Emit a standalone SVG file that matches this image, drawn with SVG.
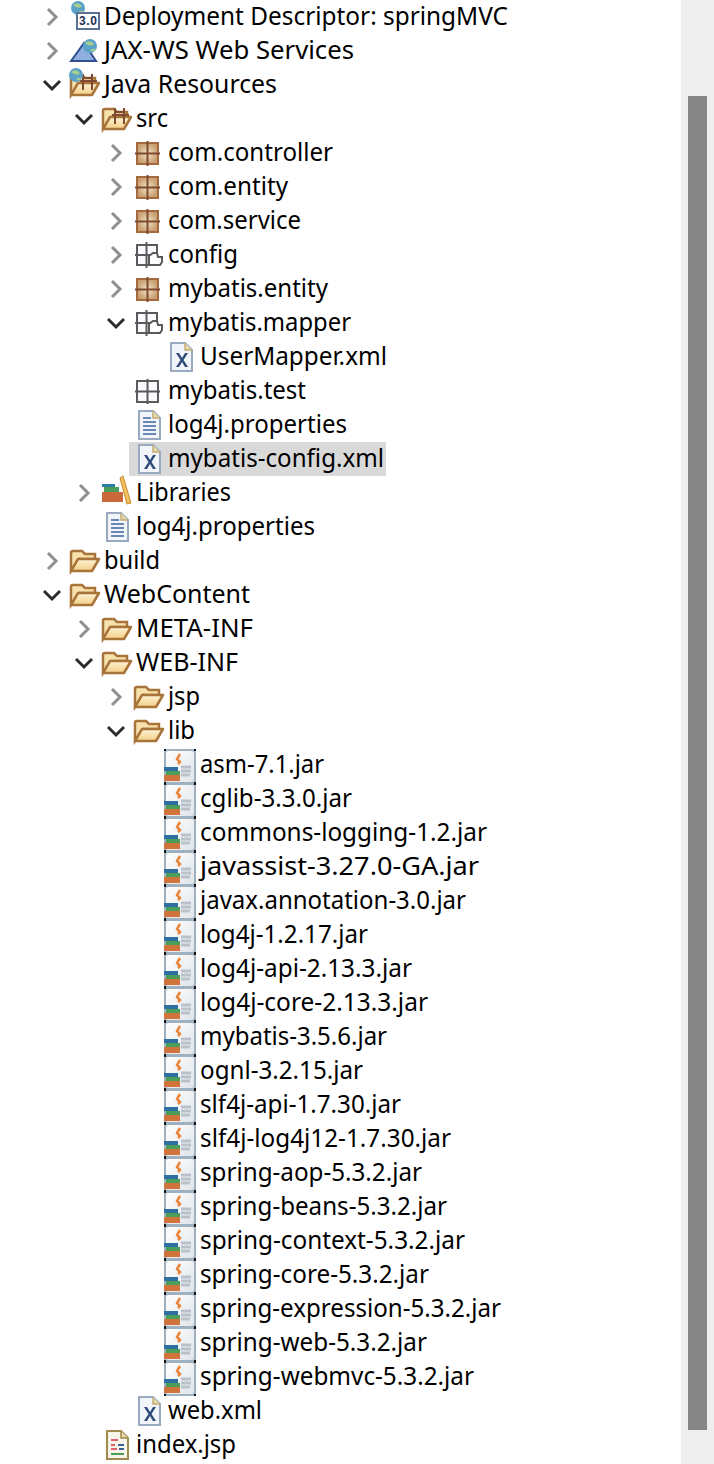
<svg xmlns="http://www.w3.org/2000/svg" xmlns:xlink="http://www.w3.org/1999/xlink" width="714" height="1464" viewBox="0 0 714 1464">
<style>
text{font-family:"Noto Sans","Open Sans","Liberation Sans",sans-serif;font-size:25px;fill:#000;dominant-baseline:auto}
.cg{fill:none;stroke:#8f8f8f;stroke-width:3}
.cd{fill:none;stroke:#2b2b2b;stroke-width:3}
</style>
<defs>
<linearGradient id="fg" x1="0" y1="0" x2="0" y2="1"><stop offset="0" stop-color="#fdf3d6"/><stop offset="1" stop-color="#f3cf85"/></linearGradient>
<radialGradient id="pg"><stop offset="0" stop-color="#f3e6cc"/><stop offset="1" stop-color="#c99f70"/></radialGradient>
<linearGradient id="jg" x1="0" y1="0" x2="1" y2="1"><stop offset="0" stop-color="#ffffff"/><stop offset="1" stop-color="#dfe4e9"/></linearGradient>
<path id="chevR" d="M-4-8 4 0-4 8"/>
<path id="chevD" d="M-8-4 0 4 8-4"/>
<g id="folder">
<path d="M1 11V-7Q1-9 3-9H12L15-6H25V-1H9L1 11Z" fill="#f7e2ae" stroke="#a9743a" stroke-width="2.500"/>
<path d="M1 11 8-1H29L22 11Z" fill="url(#fg)" stroke="#a9743a" stroke-width="2.500" stroke-linejoin="round"/>
</g>
<g id="pkg">
<rect x="3" y="-9" width="21" height="21" fill="url(#pg)" stroke="#a5693f" stroke-width="2"/>
<path d="M13.500-11V14M1 1.500H26" stroke="#7f4a30" stroke-width="2" fill="none"/>
</g>
<g id="pkge">
<rect x="3" y="-9" width="21" height="21" fill="#f8fafd" stroke="#5a5a5a" stroke-width="2"/>
<path d="M13.500-11V14M1 1.500H26" stroke="#5a5a5a" stroke-width="2" fill="none"/>
</g>
<g id="srcpkg">
<rect x="2" y="-9" width="20" height="20" fill="#f8fafd" stroke="#5a5a5a" stroke-width="2"/>
<path d="M11.500-12V14M0 1H23" stroke="#5a5a5a" stroke-width="2" fill="none"/>
<path d="M14 9V2L18-1H22L23 3H27V8L25 11H14Z" fill="#fff" stroke="#5a5a5a" stroke-width="2"/>
</g>
<g id="doc">
<path d="M1-14H15L22-7V14H1Z" fill="#f1f5fa" stroke="#98a9c0" stroke-width="2"/>
<path d="M15-14V-7H22" fill="#e9d9a6" stroke="#c3ad78" stroke-width="1.500"/>
</g>
<g id="xml"><use xlink:href="#doc"/><path d="M6-4H9L12 1 15-4H18L13.500 3 18 10H15L12 5 9 10H6L10.500 3Z" fill="#2f4a78"/></g>
<g id="prop"><use xlink:href="#doc"/><path d="M5-7H13M5-3H18M5 1H18M5 5H18M5 9H18" stroke="#6a86b5" stroke-width="2"/></g>
<g id="jsp">
<path d="M1-14H15L22-7V14H1Z" fill="#f7f5ea" stroke="#a08a4e" stroke-width="2"/>
<path d="M15-14V-7H22" fill="#e9d9a6" stroke="#a08a4e" stroke-width="1.500"/>
<path d="M5-5H12M5 0H9M5 4H11" stroke-width="2" stroke="#e06070"/>
<path d="M12 0H18M13 4H18" stroke-width="2" stroke="#3b5f96"/>
<path d="M5 9H18" stroke-width="2" stroke="#4c9c5a"/>
</g>
<g id="jar">
<rect x="2" y="-15" width="30" height="33" rx="3" fill="url(#jg)" stroke="#9fb0bf" stroke-width="2"/>
<path d="M17-11 14-6 17-3 15-1" fill="none" stroke="#e8853a" stroke-width="2.500"/>
<path d="M18 2H28M18 6H28M18 10H27" stroke="#b9c2cb" stroke-width="3"/>
<rect x="1" y="2" width="14" height="4" fill="#2d6fa0"/>
<rect x="3" y="6" width="14" height="4" fill="#4c9c5a"/>
<rect x="1" y="10" width="16" height="6" fill="#d0743c"/>
<path d="M1-16h2v2H1ZM31-16h2v2H31ZM1 17h2v2H1ZM31 17h2v2H31Z" fill="#111"/>
</g>
<g id="globe"><circle cx="0" cy="0" r="7" fill="#5aa2c8"/><path d="M-5-3Q0-7 4-2 1 2-5-3Z" fill="#a9cf8e"/><path d="M0 4Q4 2 6 3 3 7 0 4Z" fill="#a9cf8e"/></g>
<g id="books">
<path d="M19-14 22-16 30 11 26 12Z" fill="#f2c05e" stroke="#c98a2f"/>
<rect x="1" y="-8" width="13" height="3" fill="#2c7da3"/>
<rect x="3" y="-5" width="15" height="5" fill="#4c9c5a"/>
<rect x="1" y="0" width="21" height="10" fill="#c9683a"/>
</g>
</defs>
<rect width="714" height="1464" fill="#fff"/>
<g id="scrollbar">
<rect x="681" width="33" height="1464" fill="#efefef"/>
<rect x="688" y="96" width="19" height="1334" fill="#868686"/>
</g>
<g id="connectors"></g>
<g id="n0"><use class="cg" xlink:href="#chevR" x="52" y="17"/><use xlink:href="#globe" x="78" y="8"/><rect x="77" y="13" width="22" height="16" fill="#fff" stroke="#5c6f95" stroke-width="2"/><text x="79" y="25" style="font-family:'Liberation Sans',sans-serif;font-size:12px;font-weight:700;fill:#1c2f55" textLength="18">3.0</text><text x="104" y="25" textLength="404" lengthAdjust="spacingAndGlyphs">Deployment Descriptor: springMVC</text></g>
<g id="n1"><use class="cg" xlink:href="#chevR" x="52" y="51"/><path d="M71 61 84 43 96 61Z" fill="#8fb0df" stroke="#2f4f92" stroke-width="2"/><use xlink:href="#globe" x="90" y="46"/><text x="104" y="59" textLength="250" lengthAdjust="spacingAndGlyphs">JAX-WS Web Services</text></g>
<g id="n2"><use class="cd" xlink:href="#chevD" x="52" y="85"/><use xlink:href="#folder" x="70" y="84"/><path d="M83 74V90M92 74V90M80 81H97M83 78H92" stroke="#7f4a30" stroke-width="2" fill="none"/><use xlink:href="#globe" x="76" y="75"/><text x="104" y="93" textLength="173" lengthAdjust="spacingAndGlyphs">Java Resources</text></g>
<g id="n3"><use class="cd" xlink:href="#chevD" x="84" y="119"/><use xlink:href="#folder" x="102" y="118"/><path d="M115 108V124M124 108V124M112 115H129M115 112H124" stroke="#7f4a30" stroke-width="2" fill="none"/><text x="136" y="127" textLength="32" lengthAdjust="spacingAndGlyphs">src</text></g>
<g id="n4"><use class="cg" xlink:href="#chevR" x="116" y="153"/><use xlink:href="#pkg" x="134" y="152"/><text x="168" y="161" textLength="165" lengthAdjust="spacingAndGlyphs">com.controller</text></g>
<g id="n5"><use class="cg" xlink:href="#chevR" x="116" y="187"/><use xlink:href="#pkg" x="134" y="186"/><text x="168" y="195" textLength="120" lengthAdjust="spacingAndGlyphs">com.entity</text></g>
<g id="n6"><use class="cg" xlink:href="#chevR" x="116" y="221"/><use xlink:href="#pkg" x="134" y="220"/><text x="168" y="229" textLength="133" lengthAdjust="spacingAndGlyphs">com.service</text></g>
<g id="n7"><use class="cg" xlink:href="#chevR" x="116" y="255"/><use xlink:href="#srcpkg" x="135" y="254"/><text x="168" y="263" textLength="70" lengthAdjust="spacingAndGlyphs">config</text></g>
<g id="n8"><use class="cg" xlink:href="#chevR" x="116" y="289"/><use xlink:href="#pkg" x="134" y="288"/><text x="168" y="297" textLength="160" lengthAdjust="spacingAndGlyphs">mybatis.entity</text></g>
<g id="n9"><use class="cd" xlink:href="#chevD" x="116" y="323"/><use xlink:href="#srcpkg" x="135" y="322"/><text x="168" y="331" textLength="183" lengthAdjust="spacingAndGlyphs">mybatis.mapper</text></g>
<g id="n10"><use xlink:href="#xml" x="170" y="357"/><text x="200" y="365" textLength="187" lengthAdjust="spacingAndGlyphs">UserMapper.xml</text></g>
<g id="n11"><use xlink:href="#pkge" x="134" y="390"/><text x="168" y="399" textLength="138" lengthAdjust="spacingAndGlyphs">mybatis.test</text></g>
<g id="n12"><use xlink:href="#prop" x="138" y="425"/><text x="168" y="433" textLength="179" lengthAdjust="spacingAndGlyphs">log4j.properties</text></g>
<g id="n13"><rect x="129" y="442" width="257" height="34" rx="1" fill="#d9d9d9"/><use xlink:href="#xml" x="138" y="459"/><text x="168" y="467" textLength="216" lengthAdjust="spacingAndGlyphs">mybatis-config.xml</text></g>
<g id="n14"><use class="cg" xlink:href="#chevR" x="84" y="493"/><use xlink:href="#books" x="101" y="492"/><text x="136" y="501" textLength="95" lengthAdjust="spacingAndGlyphs">Libraries</text></g>
<g id="n15"><use xlink:href="#prop" x="106" y="527"/><text x="136" y="535" textLength="179" lengthAdjust="spacingAndGlyphs">log4j.properties</text></g>
<g id="n16"><use class="cg" xlink:href="#chevR" x="52" y="561"/><use xlink:href="#folder" x="70" y="560"/><text x="104" y="569" textLength="56" lengthAdjust="spacingAndGlyphs">build</text></g>
<g id="n17"><use class="cd" xlink:href="#chevD" x="52" y="595"/><use xlink:href="#folder" x="70" y="594"/><text x="104" y="603" textLength="146" lengthAdjust="spacingAndGlyphs">WebContent</text></g>
<g id="n18"><use class="cg" xlink:href="#chevR" x="84" y="629"/><use xlink:href="#folder" x="102" y="628"/><text x="136" y="637" textLength="117" lengthAdjust="spacingAndGlyphs">META-INF</text></g>
<g id="n19"><use class="cd" xlink:href="#chevD" x="84" y="663"/><use xlink:href="#folder" x="102" y="662"/><text x="136" y="671" textLength="102" lengthAdjust="spacingAndGlyphs">WEB-INF</text></g>
<g id="n20"><use class="cg" xlink:href="#chevR" x="116" y="697"/><use xlink:href="#folder" x="134" y="696"/><text x="168" y="705" textLength="32" lengthAdjust="spacingAndGlyphs">jsp</text></g>
<g id="n21"><use class="cd" xlink:href="#chevD" x="116" y="731"/><use xlink:href="#folder" x="134" y="730"/><text x="168" y="739" textLength="27" lengthAdjust="spacingAndGlyphs">lib</text></g>
<g id="n22"><use xlink:href="#jar" x="163" y="765"/><text x="200" y="773" textLength="124" lengthAdjust="spacingAndGlyphs">asm-7.1.jar</text></g>
<g id="n23"><use xlink:href="#jar" x="163" y="799"/><text x="200" y="807" textLength="152" lengthAdjust="spacingAndGlyphs">cglib-3.3.0.jar</text></g>
<g id="n24"><use xlink:href="#jar" x="163" y="833"/><text x="200" y="841" textLength="287" lengthAdjust="spacingAndGlyphs">commons-logging-1.2.jar</text></g>
<g id="n25"><use xlink:href="#jar" x="163" y="867"/><text x="200" y="875" textLength="279" lengthAdjust="spacingAndGlyphs">javassist-3.27.0-GA.jar</text></g>
<g id="n26"><use xlink:href="#jar" x="163" y="901"/><text x="200" y="909" textLength="266" lengthAdjust="spacingAndGlyphs">javax.annotation-3.0.jar</text></g>
<g id="n27"><use xlink:href="#jar" x="163" y="935"/><text x="200" y="943" textLength="168" lengthAdjust="spacingAndGlyphs">log4j-1.2.17.jar</text></g>
<g id="n28"><use xlink:href="#jar" x="163" y="969"/><text x="200" y="977" textLength="212" lengthAdjust="spacingAndGlyphs">log4j-api-2.13.3.jar</text></g>
<g id="n29"><use xlink:href="#jar" x="163" y="1003"/><text x="200" y="1011" textLength="228" lengthAdjust="spacingAndGlyphs">log4j-core-2.13.3.jar</text></g>
<g id="n30"><use xlink:href="#jar" x="163" y="1037"/><text x="200" y="1045" textLength="187" lengthAdjust="spacingAndGlyphs">mybatis-3.5.6.jar</text></g>
<g id="n31"><use xlink:href="#jar" x="163" y="1071"/><text x="200" y="1079" textLength="163" lengthAdjust="spacingAndGlyphs">ognl-3.2.15.jar</text></g>
<g id="n32"><use xlink:href="#jar" x="163" y="1105"/><text x="200" y="1113" textLength="201" lengthAdjust="spacingAndGlyphs">slf4j-api-1.7.30.jar</text></g>
<g id="n33"><use xlink:href="#jar" x="163" y="1139"/><text x="200" y="1147" textLength="251" lengthAdjust="spacingAndGlyphs">slf4j-log4j12-1.7.30.jar</text></g>
<g id="n34"><use xlink:href="#jar" x="163" y="1173"/><text x="200" y="1181" textLength="222" lengthAdjust="spacingAndGlyphs">spring-aop-5.3.2.jar</text></g>
<g id="n35"><use xlink:href="#jar" x="163" y="1207"/><text x="200" y="1215" textLength="247" lengthAdjust="spacingAndGlyphs">spring-beans-5.3.2.jar</text></g>
<g id="n36"><use xlink:href="#jar" x="163" y="1241"/><text x="200" y="1249" textLength="265" lengthAdjust="spacingAndGlyphs">spring-context-5.3.2.jar</text></g>
<g id="n37"><use xlink:href="#jar" x="163" y="1275"/><text x="200" y="1283" textLength="229" lengthAdjust="spacingAndGlyphs">spring-core-5.3.2.jar</text></g>
<g id="n38"><use xlink:href="#jar" x="163" y="1309"/><text x="200" y="1317" textLength="301" lengthAdjust="spacingAndGlyphs">spring-expression-5.3.2.jar</text></g>
<g id="n39"><use xlink:href="#jar" x="163" y="1343"/><text x="200" y="1351" textLength="227" lengthAdjust="spacingAndGlyphs">spring-web-5.3.2.jar</text></g>
<g id="n40"><use xlink:href="#jar" x="163" y="1377"/><text x="200" y="1385" textLength="274" lengthAdjust="spacingAndGlyphs">spring-webmvc-5.3.2.jar</text></g>
<g id="n41"><use xlink:href="#xml" x="138" y="1411"/><text x="168" y="1419" textLength="94" lengthAdjust="spacingAndGlyphs">web.xml</text></g>
<g id="n42"><use xlink:href="#jsp" x="106" y="1445"/><text x="136" y="1453" textLength="100" lengthAdjust="spacingAndGlyphs">index.jsp</text></g>
</svg>
